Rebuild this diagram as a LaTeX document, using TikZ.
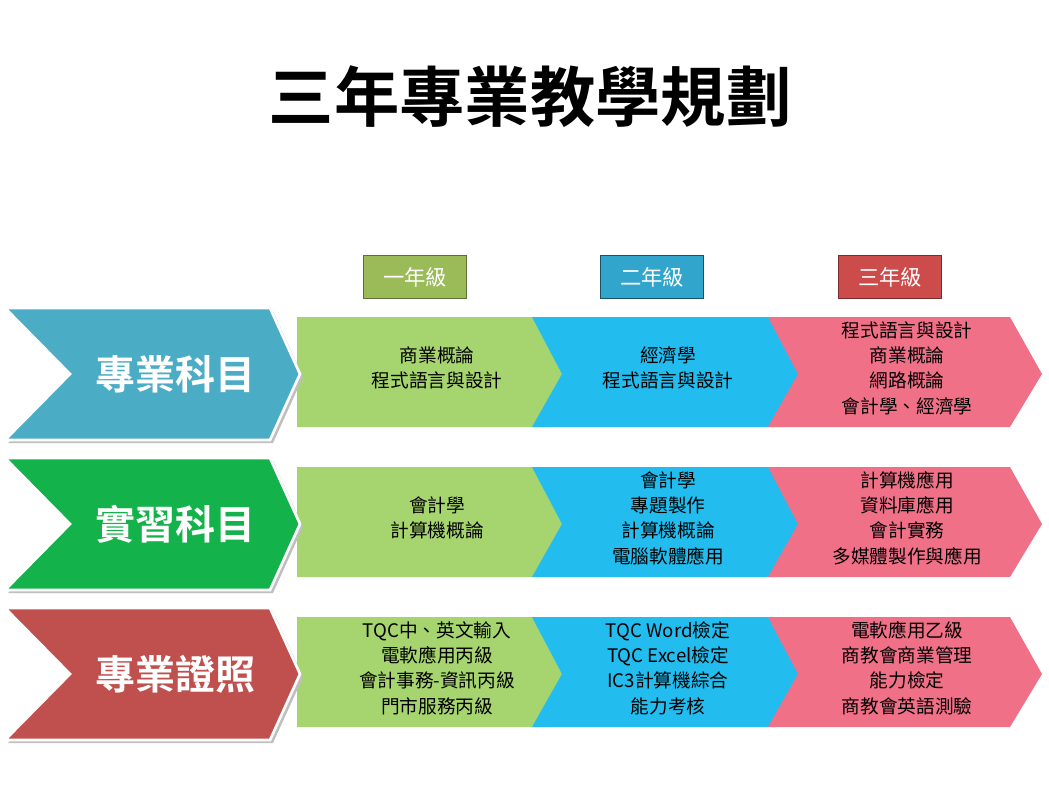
\documentclass[tikz,border=0pt]{standalone}
\usepackage{fontspec}
\newfontfamily\cjk{Noto Sans CJK TC}
\newfontfamily\cjkb{Noto Sans CJK TC Bold}
\begin{document}
\begin{tikzpicture}[x=0.75pt,y=-0.75pt,
  yrs/.style={line width=1.2pt,minimum width=77pt,minimum height=32pt,text=white,font=\cjk\fontsize{16}{19}\selectfont},
  cell/.style={align=center,font=\cjk\fontsize{14}{19}\selectfont,text=black},
  big/.style={font=\cjkb\fontsize{30}{34}\selectfont,text=white}]
\useasboundingbox (0,0) rectangle (1049,790);
\definecolor{cg}{HTML}{A6D46E}\definecolor{cb}{HTML}{22BDEE}\definecolor{cr}{HTML}{F07087}
\definecolor{yg}{HTML}{9BBB59}\definecolor{yb}{HTML}{31A5CC}\definecolor{yr}{HTML}{CC4B4B}
\definecolor{b1}{HTML}{4BACC6}\definecolor{b2}{HTML}{14B24A}\definecolor{b3}{HTML}{C0504D}
\node[font=\cjkb\fontsize{49}{53}\selectfont] (title) at (530,97) {三年專業教學規劃};
\node[yrs,fill=yg,draw=yg!60!black] (y1) at (415,277) {一年級};
\node[yrs,fill=yb,draw=yb!50!black] (y2) at (652,277) {二年級};
\node[yrs,fill=yr,draw=yr!60!black] (y3) at (890,277) {三年級};
\foreach \t/\c/\lab/\a/\b/\cc [count=\i] in {308/b1/專業科目/{商業概論\\程式語言與設計}/{經濟學\\程式語言與設計}/{程式語言與設計\\商業概論\\網路概論\\會計學、經濟學},
  458/b2/實習科目/{會計學\\計算機概論}/{會計學\\專題製作\\計算機概論\\電腦軟體應用}/{計算機應用\\資料庫應用\\會計實務\\多媒體製作與應用},
  608/b3/專業證照/{TQC中、英文輸入\\電軟應用丙級\\會計事務-資訊丙級\\門市服務丙級}/{TQC Word檢定\\TQC Excel檢定\\IC3計算機綜合\\能力考核}/{電軟應用乙級\\商教會商業管理\\能力檢定\\商教會英語測驗}}{
  \pgfmathsetmacro\m{\t+66}\pgfmathsetmacro\mt{\t+60}
  \pgfmathsetmacro\s{\t+9}\pgfmathsetmacro\e{\t+119}\pgfmathsetmacro\tb{\t+132}
  \fill[cg] (297,\s) -- (552,\s) -- (582,\m) -- (552,\e) -- (297,\e) -- cycle;
  \fill[cb] (532,\s) -- (775,\s) -- (806,\m) -- (775,\e) -- (532,\e) -- (562,\m) -- cycle;
  \fill[cr] (768,\s) -- (1010,\s) -- (1042,\m) -- (1010,\e) -- (768,\e) -- (798,\m) -- cycle;
  \fill[black!25] (8,\t+3) -- (273,\t+3) -- (303,\m+3) -- (273,\tb+3) -- (8,\tb+3) -- (73,\m+3) -- cycle;
  \fill[\c,draw=white,line width=2pt] (5,\t) -- (270,\t) -- (300,\m) -- (270,\tb) -- (5,\tb) -- (70,\m) -- cycle;
  \node[big] (h\i) at (175,\m) {\lab};
  \node[cell] (a\i) at (437,\mt) {\a};
  \node[cell] (b\i) at (668,\mt) {\b};
  \node[cell] (c\i) at (907,\mt) {\cc};
}
\end{tikzpicture}
\end{document}
